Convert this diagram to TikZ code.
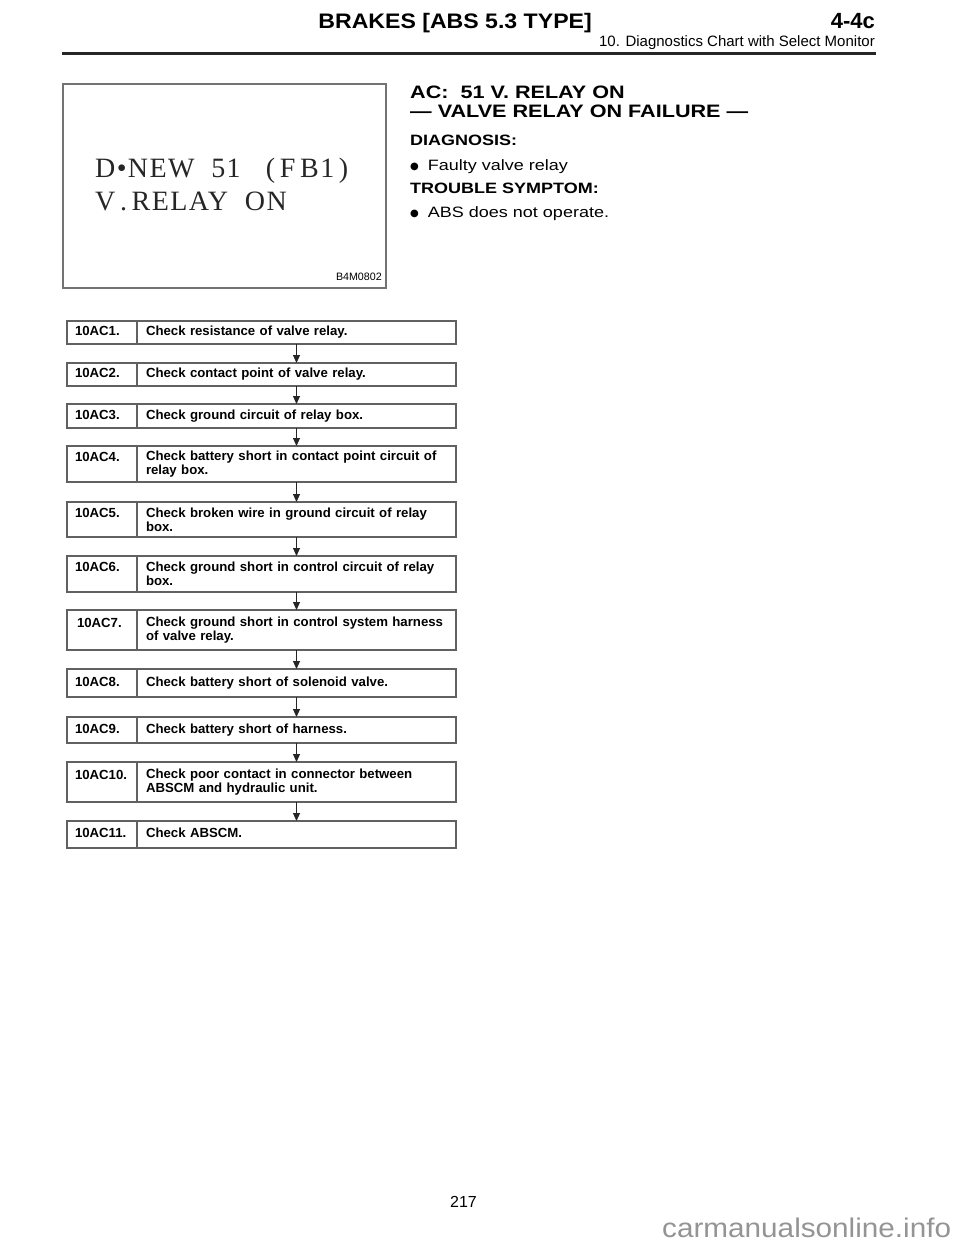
\documentclass[tikz,border=0pt]{standalone}
\usepackage{fontspec}
\setmainfont{Liberation Sans}
\newfontfamily\widefont{Liberation Sans}[FakeStretch=1.2]
\newfontfamily\hdfont{Liberation Sans}[FakeStretch=1.1]
\newfontfamily\lcdfont{Liberation Serif}[LetterSpace=5]
\newfontfamily\symfont{DejaVu Sans}
\usetikzlibrary{arrows.meta}
\definecolor{boxgray}{gray}{0.38}
\definecolor{framegray}{gray}{0.45}
\definecolor{markgray}{gray}{0.58}
\newcommand{\stepfont}{\bfseries\fontsize{13.2}{10.6}\selectfont}
\newcommand{\dotmark}{\raisebox{0.5pt}{\symfont\fontsize{10}{10}\selectfont ●}\hspace{9pt}}

\begin{document}
\begin{tikzpicture}[x=1pt, y=-1pt]
    % Styles
    \tikzstyle{numcell} = [draw=boxgray, line width=1.3pt, anchor=north west, outer sep=0pt, inner xsep=8pt, inner ysep=0pt, text width=54pt, align=left, font=\stepfont, execute at begin node=\strut]
    \tikzstyle{txtcell} = [draw=boxgray, line width=1.3pt, anchor=north west, outer sep=0pt, inner xsep=9pt, inner ysep=0pt, text width=301pt, align=left, font=\stepfont, execute at begin node=\strut]
    \tikzstyle{arrow} = [-{Triangle[width=7pt, length=8pt]}, line width=1pt, black!85]
    \tikzstyle{plain} = [inner sep=0pt, anchor=base west]

    \useasboundingbox (0,0) rectangle (960,1242);

    % Page header
    \node[plain, anchor=base east, font=\hdfont\bfseries\fontsize{21}{21}\selectfont] (chapter) at (592, 28) {BRAKES [ABS 5.3 TYPE]};
    \node[plain, anchor=base east, font=\bfseries\fontsize{22}{22}\selectfont] (section) at (875, 28) {4-4c};
    \node[plain, anchor=base east, font=\fontsize{15}{15}\selectfont] (subtitle) at (875, 46) {10. Diagnostics Chart with Select Monitor};
    \draw[line width=3pt, black!85] (62, 53.5) -- (876, 53.5);

    % Monitor screen
    \node[draw=framegray, line width=1.2pt, anchor=north west, outer sep=0pt, minimum width=323pt, minimum height=204pt] (screen) at (63, 84) {};
    \node[plain, font=\lcdfont\fontsize{28}{28}\selectfont, black!85] (lcd1) at (95, 177) {D\textbullet NEW\ \ 51\ \ \ (\,F\,B1\,)};
    \node[plain, font=\lcdfont\fontsize{28}{28}\selectfont, black!85] (lcd2) at (95, 210) {V\,.\,RELAY\ \ ON};
    \node[plain, anchor=base east, font=\fontsize{10.7}{10.7}\selectfont] (figno) at (382, 280) {B4M0802};

    % Heading and notes
    \node[plain, font=\widefont\bfseries\fontsize{18}{18}\selectfont] (title1) at (410, 98) {AC:\ \ 51 V. RELAY ON};
    \node[plain, font=\widefont\bfseries\fontsize{18}{18}\selectfont] (title2) at (410, 117) {— VALVE RELAY ON FAILURE —};
    \node[plain, font=\widefont\bfseries\fontsize{15}{15}\selectfont] (diag) at (410, 145) {DIAGNOSIS:};
    \node[plain, font=\widefont\fontsize{15}{15}\selectfont] (diag1) at (410, 170) {\dotmark Faulty valve relay};
    \node[plain, font=\widefont\bfseries\fontsize{15}{15}\selectfont] (symp) at (410, 193) {TROUBLE SYMPTOM:};
    \node[plain, font=\widefont\fontsize{15}{15}\selectfont] (symp1) at (410, 217) {\dotmark ABS does not operate.};

    % Steps
    \node[numcell, minimum height=23pt] (n1) at (67, 321) {10AC1.};
    \node[txtcell, minimum height=23pt] (t1) at (n1.north east) {Check resistance of valve relay.};
    \node[numcell, minimum height=23pt] (n2) at (67, 363) {10AC2.};
    \node[txtcell, minimum height=23pt] (t2) at (n2.north east) {Check contact point of valve relay.};
    \node[numcell, minimum height=24pt] (n3) at (67, 404) {10AC3.};
    \node[txtcell, minimum height=24pt] (t3) at (n3.north east) {Check ground circuit of relay box.};
    \node[numcell, minimum height=36pt] (n4) at (67, 446) {10AC4.\\\strut};
    \node[txtcell, minimum height=36pt] (t4) at (n4.north east) {Check battery short in contact point circuit of\\relay box.};
    \node[numcell, minimum height=35pt] (n5) at (67, 502) {10AC5.\\\strut};
    \node[txtcell, minimum height=35pt] (t5) at (n5.north east) {Check broken wire in ground circuit of relay\\box.};
    \node[numcell, minimum height=36pt] (n6) at (67, 556) {10AC6.\\\strut};
    \node[txtcell, minimum height=36pt] (t6) at (n6.north east) {Check ground short in control circuit of relay\\box.};
    \node[numcell, minimum height=40pt] (n7) at (67, 610) {\hspace{2pt}10AC7.\\\strut};
    \node[txtcell, minimum height=40pt] (t7) at (n7.north east) {Check ground short in control system harness\\of valve relay.};
    \node[numcell, minimum height=28pt] (n8) at (67, 669) {10AC8.};
    \node[txtcell, minimum height=28pt] (t8) at (n8.north east) {Check battery short of solenoid valve.};
    \node[numcell, minimum height=26pt] (n9) at (67, 717) {10AC9.};
    \node[txtcell, minimum height=26pt] (t9) at (n9.north east) {Check battery short of harness.};
    \node[numcell, minimum height=40pt] (n10) at (67, 762) {10AC10.\\\strut};
    \node[txtcell, minimum height=40pt] (t10) at (n10.north east) {Check poor contact in connector between\\ABSCM and hydraulic unit.};
    \node[numcell, minimum height=27pt] (n11) at (67, 821) {10AC11.};
    \node[txtcell, minimum height=27pt] (t11) at (n11.north east) {Check ABSCM.};

    % Arrows
    \draw[arrow] (t1) -- (t2);
    \draw[arrow] (t2) -- (t3);
    \draw[arrow] (t3) -- (t4);
    \draw[arrow] (t4) -- (t5);
    \draw[arrow] (t5) -- (t6);
    \draw[arrow] (t6) -- (t7);
    \draw[arrow] (t7) -- (t8);
    \draw[arrow] (t8) -- (t9);
    \draw[arrow] (t9) -- (t10);
    \draw[arrow] (t10) -- (t11);

    % Footer
    \node[plain, font=\fontsize{16}{16}\selectfont] (page) at (450, 1207) {217};
    \node[plain, font=\hdfont\fontsize{27}{27}\selectfont, markgray] (mark) at (662, 1237) {carmanualsonline.info};
\end{tikzpicture}
\end{document}
